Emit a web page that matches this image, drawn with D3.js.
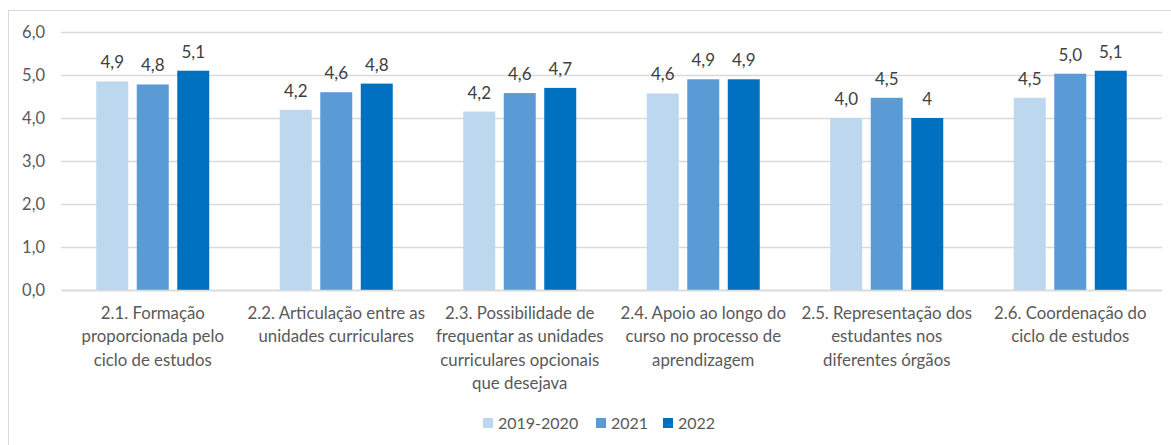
<!DOCTYPE html>
<html>
<head>
<meta charset="utf-8">
<script src="https://cdn.jsdelivr.net/npm/d3@7"></script>
<style>
    body { margin: 0; background: #fff; }
    svg { display: block; font-family: Lato, "Open Sans", sans-serif; }
</style>
</head>
<body>
<svg id="chart" width="1171" height="445"></svg>
<script>
const categories = [
    [`2.1. Formação`, `proporcionada pelo`, `ciclo de estudos`],
    [`2.2. Articulação entre as`, `unidades curriculares`],
    [`2.3. Possibilidade de`, `frequentar as unidades`, `curriculares opcionais`, `que desejava`],
    [`2.4. Apoio ao longo do`, `curso no processo de`, `aprendizagem`],
    [`2.5. Representação dos`, `estudantes nos`, `diferentes órgãos`],
    [`2.6. Coordenação do`, `ciclo de estudos`]
];
const seriesNames = [`2019-2020`, `2021`, `2022`];
const values2019 = [4.85, 4.19, 4.15, 4.57, 4.0, 4.47];
const values2021 = [4.78, 4.6, 4.58, 4.9, 4.47, 5.03];
const values2022 = [5.1, 4.8, 4.7, 4.9, 4.0, 5.1];
const labels2019 = [`4,9`, `4,2`, `4,2`, `4,6`, `4,0`, `4,5`];
const labels2021 = [`4,8`, `4,6`, `4,6`, `4,9`, `4,5`, `5,0`];
const labels2022 = [`5,1`, `4,8`, `4,7`, `4,9`, `4`, `5,1`];
const yTicks = [0, 1, 2, 3, 4, 5, 6];
const colors = [`#BDD7EE`, `#5B9BD5`, `#0070C0`];

const seriesValues = [values2019, values2021, values2022];
const seriesLabels = [labels2019, labels2021, labels2022];

const svg = d3.select(`#chart`);

// outer chart border (only left/top visible in the picture)
svg.append(`rect`)
    .attr(`x`, 8.5).attr(`y`, 10.5)
    .attr(`width`, 1180).attr(`height`, 460)
    .attr(`fill`, `#fff`)
    .attr(`stroke`, `#D9D9D9`);

const plotLeft = 61, plotRight = 1162, plotTop = 32, plotBottom = 290;

const x0 = d3.scaleBand()
    .domain(d3.range(categories.length))
    .range([plotLeft, plotRight]);

const x1 = d3.scaleBand()
    .domain(d3.range(seriesNames.length))
    .range([x0.bandwidth() / 2 - 60.75, x0.bandwidth() / 2 + 60.75])
    .paddingInner(0.21)
    .paddingOuter(0.105);

const y = d3.scaleLinear()
    .domain([0, 6])
    .range([plotBottom, plotTop]);

// gridlines
svg.append(`g`)
    .selectAll(`line`)
    .data(yTicks)
    .enter().append(`line`)
        .attr(`x1`, plotLeft).attr(`x2`, plotRight)
        .attr(`y1`, d => Math.round(y(d)) + 0.5)
        .attr(`y2`, d => Math.round(y(d)) + 0.5)
        .attr(`stroke`, `#D9D9D9`)
        .attr(`stroke-width`, 1.3);

// y axis labels
const yAxis = d3.axisLeft(y)
    .tickValues(yTicks)
    .tickSize(0)
    .tickPadding(16)
    .tickFormat(d => d3.format(`.1f`)(d).replace(`.`, `,`));

const yG = svg.append(`g`)
    .attr(`transform`, `translate(${plotLeft}, 0)`)
    .call(yAxis);
yG.select(`.domain`).remove();
yG.selectAll(`text`)
    .attr(`fill`, `#595959`)
    .attr(`font-size`, `16.5px`)
    .attr(`font-family`, `Lato, sans-serif`);

// bars
const groups = svg.append(`g`)
    .selectAll(`g`)
    .data(categories)
    .enter().append(`g`)
        .attr(`transform`, (d, i) => `translate(${x0(i)}, 0)`);

const barData = (d, i) => seriesValues.map((vals, s) => ({ s, v: vals[i], label: seriesLabels[s][i] }));

groups.selectAll(`rect`)
    .data(barData)
    .enter().append(`rect`)
        .attr(`x`, d => x1(d.s))
        .attr(`y`, d => y(d.v))
        .attr(`width`, x1.bandwidth())
        .attr(`height`, d => y(0) - y(d.v))
        .attr(`fill`, d => colors[d.s]);

groups.selectAll(`text.value`)
    .data(barData)
    .enter().append(`text`)
        .attr(`class`, `value`)
        .attr(`x`, d => x1(d.s) + x1.bandwidth() / 2)
        .attr(`y`, d => y(d.v) - 13)
        .attr(`text-anchor`, `middle`)
        .attr(`font-size`, `17px`)
        .attr(`fill`, `#404040`)
        .text(d => d.label);

// baseline
svg.append(`line`)
    .attr(`x1`, plotLeft).attr(`x2`, plotRight)
    .attr(`y1`, plotBottom + 0.5).attr(`y2`, plotBottom + 0.5)
    .attr(`stroke`, `#D9D9D9`)
    .attr(`stroke-width`, 1.3);

// category labels
groups.append(`text`)
    .attr(`text-anchor`, `middle`)
    .attr(`font-size`, `16.8px`)
    .attr(`fill`, `#595959`)
    .selectAll(`tspan`)
    .data(d => d)
    .enter().append(`tspan`)
        .attr(`x`, x0.bandwidth() / 2)
        .attr(`y`, (d, i) => 319 + i * 23.3)
        .text(d => d);

// legend
const legendX = [483, 596, 663];
const legend = svg.append(`g`)
    .selectAll(`g`)
    .data(seriesNames)
    .enter().append(`g`)
        .attr(`transform`, (d, i) => `translate(${legendX[i]}, 418)`);

legend.append(`rect`)
    .attr(`width`, 10).attr(`height`, 10)
    .attr(`fill`, (d, i) => colors[i]);

legend.append(`text`)
    .attr(`x`, 15)
    .attr(`y`, 10.5)
    .attr(`font-size`, `16px`)
    .attr(`fill`, `#595959`)
    .text(d => d);
</script>
</body>
</html>
